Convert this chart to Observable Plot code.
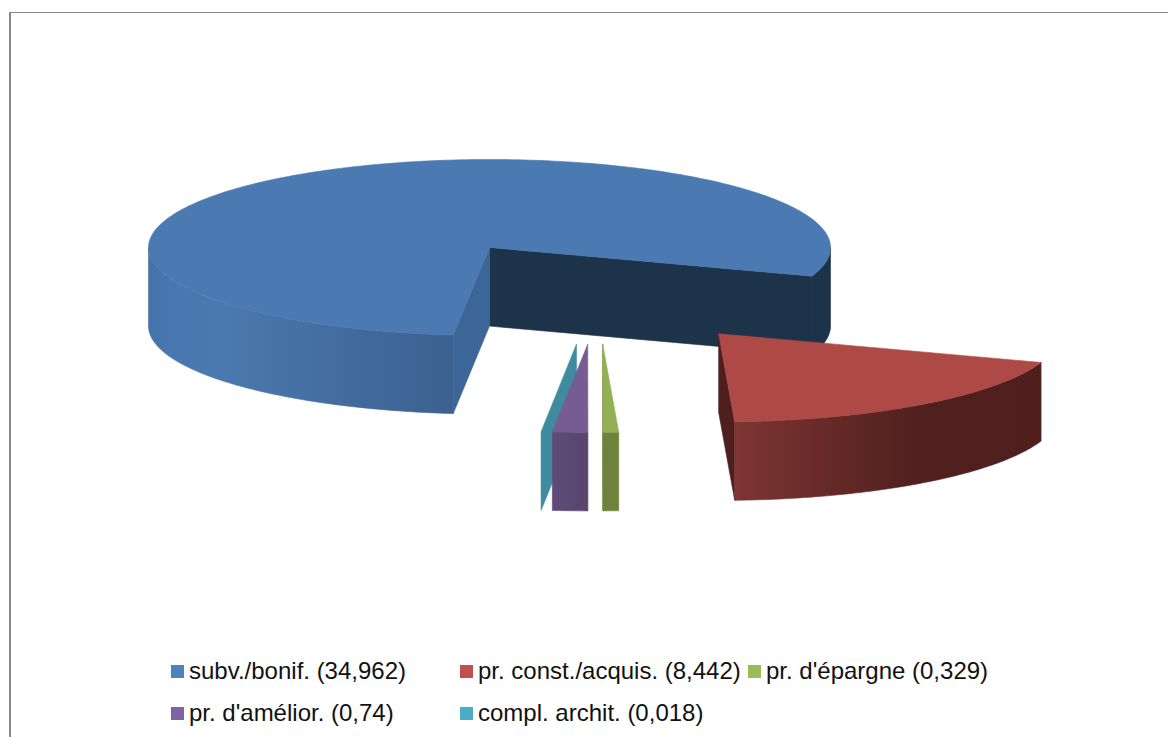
<!DOCTYPE html>
<html lang="fr">
<head>
<meta charset="utf-8">
<script src="https://cdn.jsdelivr.net/npm/d3@7"></script>
<script src="https://cdn.jsdelivr.net/npm/@observablehq/plot@0.6"></script>
<style>
  html, body { margin: 0; padding: 0; background: #fff; overflow: hidden; }
  #page { position: relative; width: 1168px; height: 737px; }
  #frame { position: absolute; left: 9px; top: 12px; right: 0; bottom: 0;
           border-left: 2px solid #878787; border-top: 1px solid #878787; }
  #chart { position: absolute; left: 0; top: 0; }
  #chart svg { display: block; background: transparent; }
  #legend { position: absolute; left: 171px; top: 650px; display: grid;
            grid-template-columns: 289px 288px auto; grid-auto-rows: 42px;
            font: 24px "Liberation Sans", Arial, sans-serif; color: #111; }
  .item { display: flex; align-items: center; white-space: nowrap; height: 42px; }
  .swatch { width: 13px; height: 13px; margin-right: 5px; flex: none; }
</style>
</head>
<body>
<div id="page">
  <div id="frame"></div>
  <div id="chart"></div>
  <div id="legend"></div>
</div>
<script>
// Slices, in clockwise drawing order
const names = ["subv./bonif.", "pr. const./acquis.", "pr. d'épargne", "pr. d'amélior.", "compl. archit."];
const values = [34.962, 8.442, 0.329, 0.74, 0.018];
const legendColors = ["#4f81bd", "#c0504d", "#9bbb59", "#8064a2", "#4bacc6"];

// Angle of the first slice, degrees clockwise from twelve o'clock
const firstAngle = 186.1;

// How far each slice is pulled from the centre, in radii of the tilted disc
const pullX = [0, 0.672, 0.332, 0.288, 0.255];
const pullY = [0, 0.981, 1.1, 1.1, 1.1];

// Thickness of the disc, in units of the vertical radius
const depth = 0.893;

// Tilted disc: one unit on each axis is one radius
const width = 1168, height = 650;
const cx = 489, cy = 247, rx = 341, ry = 88;

const total = d3.sum(values);
let running = firstAngle;
const slices = values.map((v, i) => {
  const a0 = running;
  running += v / total * 360;
  return {a0, a1: running, dx: pullX[i], dy: pullY[i]};
});
const rad = a => a * Math.PI / 180;
const rimPoint = (s, a, drop = 0) => ({x: s.dx + Math.sin(rad(a)), y: s.dy - Math.cos(rad(a)) + drop});
const hubPoint = (s, drop = 0) => ({x: s.dx, y: s.dy + drop});
const arc = (s, a0, a1, drop = 0) => {
  const n = Math.max(1, Math.ceil(Math.abs(a1 - a0)));
  return d3.range(n + 1).map(i => rimPoint(s, a0 + (a1 - a0) * i / n, drop));
};

// The three kinds of face of a slice
const topFace = s => [hubPoint(s), ...arc(s, s.a0, s.a1), hubPoint(s)];
const rimFace = (s, a0, a1) => [...arc(s, a0, a1), ...arc(s, a1, a0, depth), rimPoint(s, a0)];
const cutFace = (s, a) => [hubPoint(s), rimPoint(s, a), rimPoint(s, a, depth), hubPoint(s, depth), hubPoint(s)];

const [blue, red, green, purple, teal] = slices;

// A hairline in the face's own colour closes the seams between neighbouring faces
const face = (points, fill) => Plot.line(points, {x: "x", y: "y", fill, stroke: fill, strokeWidth: 0.6});

// Horizontal shading of the curved walls
const gradient = (id, stops) => () => {
  const defs = d3.create("svg:defs");
  const g = defs.append("linearGradient").attr("id", id);
  stops.forEach(([offset, color]) => g.append("stop").attr("offset", offset).attr("stop-color", color));
  return defs.node();
};

const plot = Plot.plot({
  width, height,
  margin: 0,
  style: {background: "transparent"},
  x: {axis: null, domain: [-cx / rx, (width - cx) / rx], range: [0, width]},
  y: {axis: null, domain: [-cy / ry, (height - cy) / ry], range: [0, height]},
  marks: [
    gradient("blueWall", [["0", "#4472a8"], ["0.07", "#4878af"], ["0.25", "#4a79af"], ["0.55", "#446fa2"], ["0.85", "#3e6595"], ["1", "#3d6290"]]),
    gradient("redWall", [["0", "#7e3533"], ["0.3", "#662a28"], ["0.6", "#50201e"], ["1", "#4f1f1e"]]),
    gradient("purpleWall", [["0", "#5f4b78"], ["1", "#57456e"]]),

    // Main slice: the far walls, then the near wall, the cut and the top
    face(cutFace(blue, blue.a1), "#1d3349"),
    face(rimFace(blue, 450, blue.a1), "#1d3349"),
    face(rimFace(blue, blue.a0, 270), "url(#blueWall)"),
    face(cutFace(blue, blue.a0), "#3c6695"),
    face(topFace(blue), "#4a7ab1"),

    // Narrow slices
    face(cutFace(teal, teal.a0), "#3f8ca1"),
    face(rimFace(purple, purple.a0, purple.a1), "url(#purpleWall)"),
    face(topFace(purple), "#775c93"),
    face(cutFace(green, green.a1), "#6f823b"),
    face(rimFace(green, green.a0, green.a1), "#6f823b"),
    face(topFace(green), "#93b055"),

    // Second largest slice
    face(cutFace(red, red.a1), "#4f1f1e"),
    face(rimFace(red, red.a0, red.a1), "url(#redWall)"),
    face(topFace(red), "#ad4a45")
  ]
});
document.getElementById("chart").append(plot);

// Legend below the plot
const legend = d3.select("#legend");
names.forEach((name, i) => {
  const item = legend.append("div").attr("class", "item");
  item.append("span").attr("class", "swatch").style("background", legendColors[i]);
  item.append("span").text(`${name} (${String(values[i]).replace(".", ",")})`);
});
</script>
</body>
</html>
